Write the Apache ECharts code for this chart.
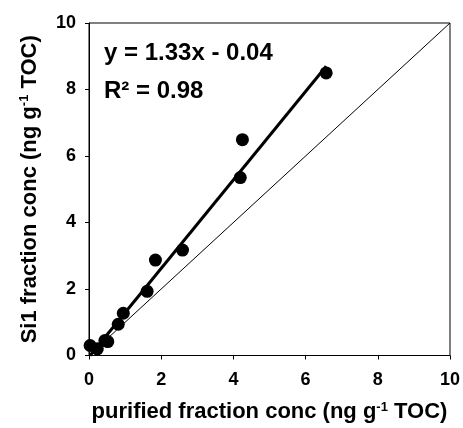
<!DOCTYPE html>
<html>
<head>
<meta charset="utf-8">
<script src="https://cdn.jsdelivr.net/npm/echarts@6/dist/echarts.min.js"></script>
<style>html,body{margin:0;padding:0;background:#fff}#c{width:463px;height:428px}</style>
</head>
<body>
<div id="c"></div>
<script>
var purified = [0.03, 0.23, 0.44, 0.52, 0.81, 0.95, 1.61, 1.84, 2.59, 4.19, 4.25, 6.57];
var si1 = [0.30, 0.20, 0.45, 0.42, 0.94, 1.27, 1.93, 2.87, 3.17, 5.35, 6.49, 8.50];
var slope = 1.33;
var intercept = -0.04;
var trendX = [0.03, 6.57];
var oneToOne = [0, 10];
var axisTicks = [0, 2, 4, 6, 8, 10];
var eqText = 'y = 1.33x - 0.04';
var r2Text = 'R\u00b2 = 0.98';

var pts = purified.map(function (x, i) { return [x, si1[i]]; });
var trend = trendX.map(function (x) { return [x, slope * x + intercept]; });
var diag = oneToOne.map(function (v) { return [v, v]; });

var font = '"Liberation Sans", Arial, sans-serif';
var chart = echarts.init(document.getElementById('c'), null, { renderer: 'canvas' });
function nameStyle(size) {
  return {
    color: '#000', fontFamily: font, fontWeight: 'bold', fontSize: size,
    rich: {
      sup: { fontSize: 13, fontWeight: 'bold', fontFamily: font, color: '#000', padding: [0, 0, 10, 0] }
    }
  };
}
var labelStyle = {
  color: '#000', fontFamily: font, fontWeight: 'bold', fontSize: 18,
  formatter: '{b|{value}}',
  rich: { b: { color: '#000', fontFamily: font, fontWeight: 'bold', fontSize: 18 } }
};
var common = {
  type: 'value',
  min: axisTicks[0], max: axisTicks[axisTicks.length - 1], interval: 2,
  splitLine: { show: false },
  axisLine: { show: true, lineStyle: { color: '#000', width: 1 } },
  axisTick: { show: true, length: 4, inside: false, lineStyle: { color: '#000' } },
  nameLocation: 'middle'
};
chart.setOption({
  animation: false,
  textStyle: { fontFamily: font, fontWeight: 'bold', color: '#000' },
  grid: { left: 89, top: 23, right: 12, bottom: 69, show: true, borderColor: '#000', borderWidth: 1 },
  xAxis: Object.assign({}, common, {
    name: 'purified fraction conc (ng g{sup|-1} TOC)',
    nameGap: 45,
    nameTextStyle: nameStyle(22),
    axisLabel: Object.assign({ margin: 16 }, labelStyle)
  }),
  yAxis: Object.assign({}, common, {
    name: 'Si1 fraction conc (ng g{sup|-1} TOC)',
    nameGap: 48,
    nameTextStyle: nameStyle(22),
    axisLabel: Object.assign({ margin: 13 }, labelStyle)
  }),
  graphic: [
    { type: 'text', left: 104, top: 41, style: { text: eqText, font: 'bold 24px ' + font, fill: '#000' } },
    { type: 'text', left: 104, top: 79, style: { text: r2Text, font: 'bold 24px ' + font, fill: '#000' } }
  ],
  series: [
    { type: 'line', data: diag, symbol: 'none', lineStyle: { color: '#000', width: 1 }, z: 1 },
    { type: 'line', data: trend, symbol: 'none', lineStyle: { color: '#000', width: 3 }, z: 2 },
    { type: 'scatter', data: pts, symbol: 'circle', symbolSize: 13, itemStyle: { color: '#000', opacity: 1 }, z: 3 }
  ]
});
</script>
</body>
</html>
